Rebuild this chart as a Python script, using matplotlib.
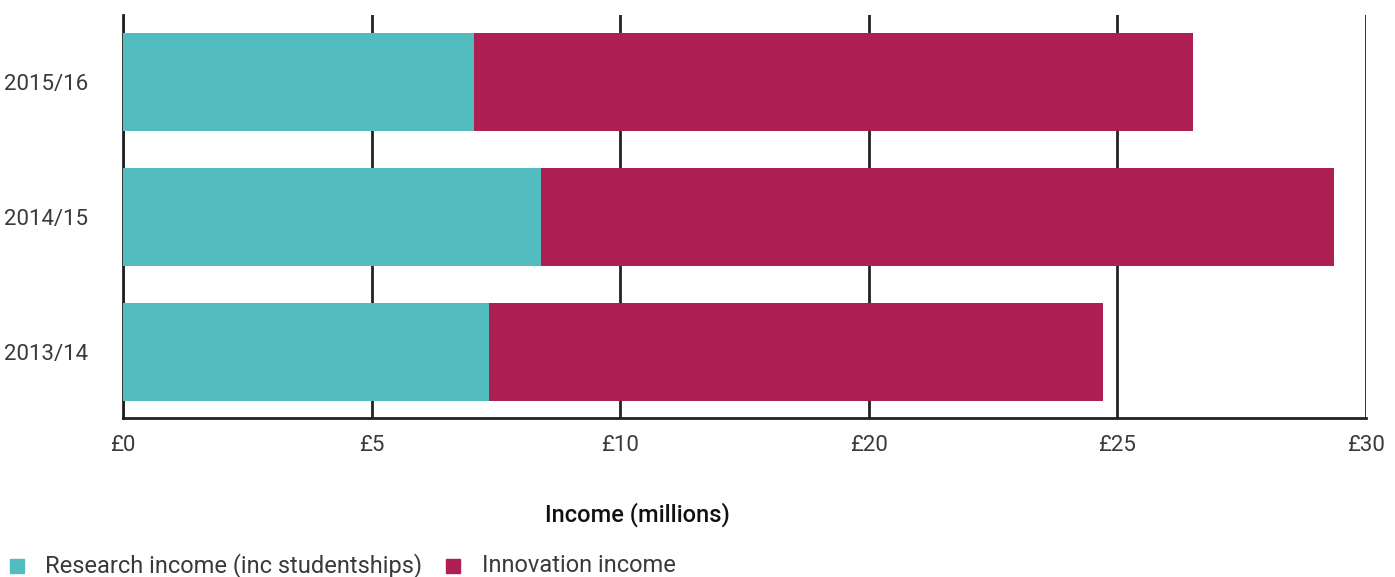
import numpy as np
import matplotlib.pyplot as plt
from matplotlib.patches import Rectangle

plt.rcParams['font.family'] = ['Roboto', 'DejaVu Sans']

# Data (in axis units; ticks are labelled as printed on the original chart)
years = ["2013/14", "2014/15", "2015/16"]
research = [7.36, 8.41, 7.06]
innovation = [12.36, 15.94, 14.47]
tick_pos = [0, 5, 10, 15, 20, 25]
tick_labels = ["£0", "£5", "£10", "£20", "£25", "£30"]

teal = "#52BCBE"
magenta = "#AE1F54"
dark = "#222222"
txt = "#3a3a3a"

fig = plt.figure(figsize=(13.95, 5.77), dpi=100)
ax = fig.add_axes([123/1395, 1 - 418/577, (1366-123)/1395, (418-15)/577])

y = np.arange(len(years))
ax.barh(y, research, height=0.726, color=teal, zorder=3)
ax.barh(y, innovation, left=research, height=0.726, color=magenta, zorder=3)

ax.set_xlim(0, 25)
ax.set_ylim(-0.49, 2.496)
ax.set_xticks(tick_pos)
ax.set_xticklabels(tick_labels)
ax.set_yticks(y)
ax.set_yticklabels(years)
ax.tick_params(axis='both', length=0, labelsize=16, colors=txt)
ax.tick_params(axis='x', pad=12)
ax.tick_params(axis='y', pad=25)

ax.grid(axis='x', color=dark, linewidth=2, zorder=1)
for s in ['top', 'right']:
    ax.spines[s].set_visible(False)
for s in ['left', 'bottom']:
    ax.spines[s].set_color(dark)
    ax.spines[s].set_linewidth(2)

fig.text(637/1395, 1 - 515/577, "Income (millions)", ha='center', va='center',
         fontsize=17, fontweight='medium', color='#111111')

# legend
ly = 1 - 566/577
fig.patches.append(Rectangle((10/1395, ly - 7/577), 14/1395, 14/577,
                             transform=fig.transFigure, color=teal))
fig.text(45/1395, ly, "Research income (inc studentships)", ha='left', va='center',
         fontsize=17, color=txt)
fig.patches.append(Rectangle((446/1395, ly - 7/577), 14/1395, 14/577,
                             transform=fig.transFigure, color=magenta))
fig.text(482/1395, ly, "Innovation income", ha='left', va='center',
         fontsize=17, color=txt)

fig.savefig("out.png", dpi=100)
